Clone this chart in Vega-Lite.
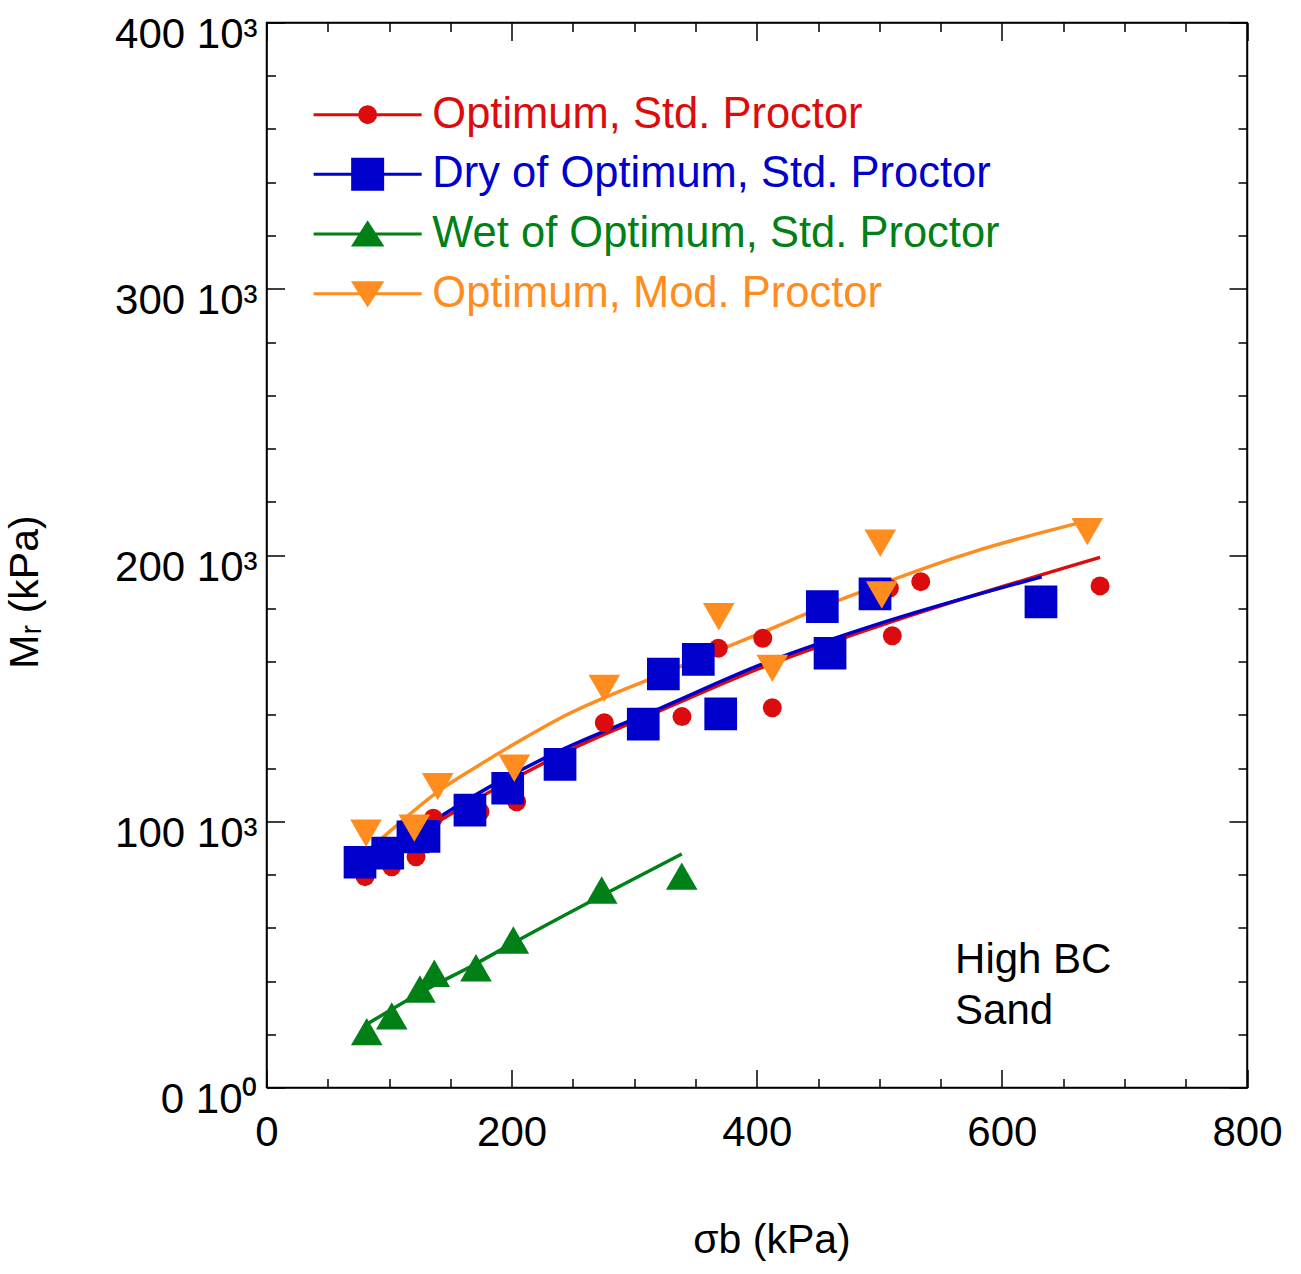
{
  "$schema": "https://vega.github.io/schema/vega-lite/v6.json",
  "width": 980.5,
  "height": 1065,
  "autosize": {"type": "none"},
  "padding": {"left": 266.5, "top": 22.5, "right": 54, "bottom": 186.5},
  "background": "white",
  "config": {
    "font": "Liberation Sans",
    "view": {"stroke": "black", "strokeWidth": 1.5},
    "axis": {
      "grid": false,
      "domainColor": "black",
      "domainWidth": 1.5,
      "tickColor": "black",
      "tickWidth": 1.5,
      "labelFont": "Liberation Sans",
      "labelFontSize": 42,
      "labelColor": "black",
      "titleFont": "Liberation Sans",
      "titleFontSize": 41,
      "titleFontWeight": "normal",
      "titleColor": "black"
    }
  },
  "datasets": {
    "obs": [
      {"series": "Optimum, Std. Proctor", "x": 80.4, "y": 79.2},
      {"series": "Optimum, Std. Proctor", "x": 102.2, "y": 82.9},
      {"series": "Optimum, Std. Proctor", "x": 122.0, "y": 86.7},
      {"series": "Optimum, Std. Proctor", "x": 136.1, "y": 101.1},
      {"series": "Optimum, Std. Proctor", "x": 174.2, "y": 103.6},
      {"series": "Optimum, Std. Proctor", "x": 204.1, "y": 107.3},
      {"series": "Optimum, Std. Proctor", "x": 275.6, "y": 137.0},
      {"series": "Optimum, Std. Proctor", "x": 339.0, "y": 139.3},
      {"series": "Optimum, Std. Proctor", "x": 368.6, "y": 165.0},
      {"series": "Optimum, Std. Proctor", "x": 404.9, "y": 168.7},
      {"series": "Optimum, Std. Proctor", "x": 412.7, "y": 142.6},
      {"series": "Optimum, Std. Proctor", "x": 508.2, "y": 187.5},
      {"series": "Optimum, Std. Proctor", "x": 510.6, "y": 169.7},
      {"series": "Optimum, Std. Proctor", "x": 533.8, "y": 190.0},
      {"series": "Optimum, Std. Proctor", "x": 680.1, "y": 188.4},
      {"series": "Dry of Optimum, Std. Proctor", "x": 76.3, "y": 84.6},
      {"series": "Dry of Optimum, Std. Proctor", "x": 98.9, "y": 88.0},
      {"series": "Dry of Optimum, Std. Proctor", "x": 119.5, "y": 94.1},
      {"series": "Dry of Optimum, Std. Proctor", "x": 128.5, "y": 94.3},
      {"series": "Dry of Optimum, Std. Proctor", "x": 166.0, "y": 104.2},
      {"series": "Dry of Optimum, Std. Proctor", "x": 196.8, "y": 112.4},
      {"series": "Dry of Optimum, Std. Proctor", "x": 239.5, "y": 121.4},
      {"series": "Dry of Optimum, Std. Proctor", "x": 307.4, "y": 136.5},
      {"series": "Dry of Optimum, Std. Proctor", "x": 323.8, "y": 155.3},
      {"series": "Dry of Optimum, Std. Proctor", "x": 352.3, "y": 160.8},
      {"series": "Dry of Optimum, Std. Proctor", "x": 370.6, "y": 140.3},
      {"series": "Dry of Optimum, Std. Proctor", "x": 453.5, "y": 180.6},
      {"series": "Dry of Optimum, Std. Proctor", "x": 459.8, "y": 163.1},
      {"series": "Dry of Optimum, Std. Proctor", "x": 496.5, "y": 185.4},
      {"series": "Dry of Optimum, Std. Proctor", "x": 631.9, "y": 182.4},
      {"series": "Wet of Optimum, Std. Proctor", "x": 81.8, "y": 21.0},
      {"series": "Wet of Optimum, Std. Proctor", "x": 102.2, "y": 26.9},
      {"series": "Wet of Optimum, Std. Proctor", "x": 125.2, "y": 37.0},
      {"series": "Wet of Optimum, Std. Proctor", "x": 136.9, "y": 42.9},
      {"series": "Wet of Optimum, Std. Proctor", "x": 170.9, "y": 45.0},
      {"series": "Wet of Optimum, Std. Proctor", "x": 201.4, "y": 55.4},
      {"series": "Wet of Optimum, Std. Proctor", "x": 273.5, "y": 74.2},
      {"series": "Wet of Optimum, Std. Proctor", "x": 338.8, "y": 79.4},
      {"series": "Optimum, Mod. Proctor", "x": 81.2, "y": 95.5},
      {"series": "Optimum, Mod. Proctor", "x": 120.6, "y": 97.4},
      {"series": "Optimum, Mod. Proctor", "x": 139.7, "y": 113.0},
      {"series": "Optimum, Mod. Proctor", "x": 202.2, "y": 119.9},
      {"series": "Optimum, Mod. Proctor", "x": 275.6, "y": 149.9},
      {"series": "Optimum, Mod. Proctor", "x": 369.0, "y": 176.8},
      {"series": "Optimum, Mod. Proctor", "x": 412.7, "y": 157.4},
      {"series": "Optimum, Mod. Proctor", "x": 500.8, "y": 204.4},
      {"series": "Optimum, Mod. Proctor", "x": 502.0, "y": 185.0},
      {"series": "Optimum, Mod. Proctor", "x": 669.7, "y": 208.8}
    ],
    "fits": [
      {"series": "Optimum, Std. Proctor", "x": 79.6, "y": 81.5},
      {"series": "Optimum, Std. Proctor", "x": 138.9, "y": 99.5},
      {"series": "Optimum, Std. Proctor", "x": 212.3, "y": 118.5},
      {"series": "Optimum, Std. Proctor", "x": 253.1, "y": 128.0},
      {"series": "Optimum, Std. Proctor", "x": 321.1, "y": 141.5},
      {"series": "Optimum, Std. Proctor", "x": 402.7, "y": 157.5},
      {"series": "Optimum, Std. Proctor", "x": 500.6, "y": 173.5},
      {"series": "Optimum, Std. Proctor", "x": 680.1, "y": 199.1},
      {"series": "Dry of Optimum, Std. Proctor", "x": 76.3, "y": 81.5},
      {"series": "Dry of Optimum, Std. Proctor", "x": 141.6, "y": 101.7},
      {"series": "Dry of Optimum, Std. Proctor", "x": 182.4, "y": 113.0},
      {"series": "Dry of Optimum, Std. Proctor", "x": 239.5, "y": 126.5},
      {"series": "Dry of Optimum, Std. Proctor", "x": 321.1, "y": 142.4},
      {"series": "Dry of Optimum, Std. Proctor", "x": 402.7, "y": 158.7},
      {"series": "Dry of Optimum, Std. Proctor", "x": 500.6, "y": 174.3},
      {"series": "Dry of Optimum, Std. Proctor", "x": 632.5, "y": 191.8},
      {"series": "Wet of Optimum, Std. Proctor", "x": 83.1, "y": 24.1},
      {"series": "Wet of Optimum, Std. Proctor", "x": 125.2, "y": 35.5},
      {"series": "Wet of Optimum, Std. Proctor", "x": 170.9, "y": 46.5},
      {"series": "Wet of Optimum, Std. Proctor", "x": 204.1, "y": 55.0},
      {"series": "Wet of Optimum, Std. Proctor", "x": 269.4, "y": 71.1},
      {"series": "Wet of Optimum, Std. Proctor", "x": 338.8, "y": 87.7},
      {"series": "Optimum, Mod. Proctor", "x": 81.2, "y": 88.5},
      {"series": "Optimum, Mod. Proctor", "x": 92.6, "y": 93.0},
      {"series": "Optimum, Mod. Proctor", "x": 141.6, "y": 111.7},
      {"series": "Optimum, Mod. Proctor", "x": 171.5, "y": 120.5},
      {"series": "Optimum, Mod. Proctor", "x": 209.5, "y": 131.0},
      {"series": "Optimum, Mod. Proctor", "x": 239.5, "y": 138.7},
      {"series": "Optimum, Mod. Proctor", "x": 321.1, "y": 155.0},
      {"series": "Optimum, Mod. Proctor", "x": 402.7, "y": 170.6},
      {"series": "Optimum, Mod. Proctor", "x": 467.9, "y": 183.1},
      {"series": "Optimum, Mod. Proctor", "x": 576.7, "y": 201.2},
      {"series": "Optimum, Mod. Proctor", "x": 670.5, "y": 212.9}
    ],
    "note": [
      {"text": "High BC\nSand"}
    ]
  },
  "resolve": {"axis": {"x": "independent", "y": "independent"}},
  "layer": [
    {
      "data": {"name": "fits"},
      "transform": [{"filter": "datum.series === 'Optimum, Std. Proctor'"}],
      "mark": {"type": "line", "strokeWidth": 3.5, "interpolate": "monotone", "color": "#dd0c0c"},
      "encoding": {
        "x": {
          "field": "x", "type": "quantitative",
          "scale": {"domain": [0, 800], "nice": false, "zero": false},
          "axis": {
            "orient": "bottom",
            "values": [0, 50, 100, 150, 200, 250, 300, 350, 400, 450, 500, 550, 600, 650, 700, 750, 800],
            "labelExpr": "datum.value % 200 === 0 ? datum.label : ''",
            "tickSize": {"condition": {"test": "datum.value % 200 === 0", "value": -18}, "value": -9},
            "labelPadding": 42.5,
            "labelFlush": false,
            "labelOverlap": false,
            "title": "σb (kPa)",
            "titleX": 505,
            "titleY": 164.5,
            "titleBaseline": "alphabetic",
            "titleAlign": "center"
          }
        },
        "y": {
          "field": "y", "type": "quantitative",
          "scale": {"domain": [0, 400], "nice": false, "zero": false},
          "axis": {
            "orient": "left",
            "values": [0, 20, 40, 60, 80, 100, 120, 140, 160, 180, 200, 220, 240, 260, 280, 300, 320, 340, 360, 380, 400],
            "labelExpr": "datum.value === 0 ? '0 10⁰' : (datum.value % 100 === 0 ? datum.label + ' 10³' : '')",
            "tickSize": {"condition": {"test": "datum.value % 100 === 0", "value": -18}, "value": -9},
            "labelPadding": 27.5,
            "labelOffset": 12,
            "labelBaseline": "middle",
            "labelFlush": false,
            "labelOverlap": false,
            "title": "Mᵣ (kPa)",
            "titleX": -229.5,
            "titleY": 569,
            "titleAngle": 270,
            "titleBaseline": "alphabetic",
            "titleAlign": "center"
          }
        }
      }
    },
    {
      "data": {"name": "fits"},
      "transform": [{"filter": "datum.series === 'Dry of Optimum, Std. Proctor'"}],
      "mark": {"type": "line", "strokeWidth": 3.5, "interpolate": "monotone", "color": "#0000cc"},
      "encoding": {
        "x": {"field": "x", "type": "quantitative", "scale": {"domain": [0, 800], "nice": false, "zero": false}, "axis": null},
        "y": {"field": "y", "type": "quantitative", "scale": {"domain": [0, 400], "nice": false, "zero": false}, "axis": null}
      }
    },
    {
      "data": {"name": "fits"},
      "transform": [{"filter": "datum.series === 'Wet of Optimum, Std. Proctor'"}],
      "mark": {"type": "line", "strokeWidth": 3.5, "interpolate": "monotone", "color": "#008016"},
      "encoding": {
        "x": {"field": "x", "type": "quantitative", "scale": {"domain": [0, 800], "nice": false, "zero": false}, "axis": null},
        "y": {"field": "y", "type": "quantitative", "scale": {"domain": [0, 400], "nice": false, "zero": false}, "axis": null}
      }
    },
    {
      "data": {"name": "fits"},
      "transform": [{"filter": "datum.series === 'Optimum, Mod. Proctor'"}],
      "mark": {"type": "line", "strokeWidth": 3.5, "interpolate": "monotone", "color": "#ff8c1f"},
      "encoding": {
        "x": {"field": "x", "type": "quantitative", "scale": {"domain": [0, 800], "nice": false, "zero": false}, "axis": null},
        "y": {"field": "y", "type": "quantitative", "scale": {"domain": [0, 400], "nice": false, "zero": false}, "axis": null}
      }
    },
    {
      "data": {"name": "obs"},
      "transform": [{"filter": "datum.series === 'Optimum, Std. Proctor'"}],
      "mark": {"type": "point", "shape": "circle", "filled": true, "opacity": 1, "size": 361, "color": "#dd0c0c"},
      "encoding": {
        "x": {
          "field": "x", "type": "quantitative",
          "scale": {"domain": [0, 800], "nice": false, "zero": false},
          "axis": {
            "orient": "top",
            "values": [0, 50, 100, 150, 200, 250, 300, 350, 400, 450, 500, 550, 600, 650, 700, 750, 800],
            "labels": false,
            "tickSize": {"condition": {"test": "datum.value % 200 === 0", "value": -18}, "value": -9},
            "title": null
          }
        },
        "y": {
          "field": "y", "type": "quantitative",
          "scale": {"domain": [0, 400], "nice": false, "zero": false},
          "axis": {
            "orient": "right",
            "values": [0, 20, 40, 60, 80, 100, 120, 140, 160, 180, 200, 220, 240, 260, 280, 300, 320, 340, 360, 380, 400],
            "labels": false,
            "tickSize": {"condition": {"test": "datum.value % 100 === 0", "value": -18}, "value": -9},
            "title": null
          }
        }
      }
    },
    {
      "data": {"name": "obs"},
      "transform": [{"filter": "datum.series === 'Dry of Optimum, Std. Proctor'"}],
      "mark": {"type": "point", "shape": "square", "filled": true, "opacity": 1, "size": 1070, "color": "#0000cc"},
      "encoding": {
        "x": {"field": "x", "type": "quantitative", "scale": {"domain": [0, 800], "nice": false, "zero": false}, "axis": null},
        "y": {"field": "y", "type": "quantitative", "scale": {"domain": [0, 400], "nice": false, "zero": false}, "axis": null}
      }
    },
    {
      "data": {"name": "obs"},
      "transform": [{"filter": "datum.series === 'Wet of Optimum, Std. Proctor'"}],
      "mark": {"type": "point", "shape": "triangle-up", "filled": true, "opacity": 1, "size": 1000, "color": "#008016"},
      "encoding": {
        "x": {"field": "x", "type": "quantitative", "scale": {"domain": [0, 800], "nice": false, "zero": false}, "axis": null},
        "y": {"field": "y", "type": "quantitative", "scale": {"domain": [0, 400], "nice": false, "zero": false}, "axis": null}
      }
    },
    {
      "data": {"name": "obs"},
      "transform": [{"filter": "datum.series === 'Optimum, Mod. Proctor'"}],
      "mark": {"type": "point", "shape": "triangle-down", "filled": true, "opacity": 1, "size": 1000, "color": "#ff8c1f"},
      "encoding": {
        "x": {"field": "x", "type": "quantitative", "scale": {"domain": [0, 800], "nice": false, "zero": false}, "axis": null},
        "y": {"field": "y", "type": "quantitative", "scale": {"domain": [0, 400], "nice": false, "zero": false}, "axis": null}
      }
    },
    {
      "data": {"name": "note"},
      "mark": {"type": "text", "lineBreak": "\n", "lineHeight": 51, "align": "left", "baseline": "alphabetic", "font": "Liberation Sans", "fontSize": 42, "color": "black"},
      "encoding": {
        "text": {"field": "text", "type": "nominal"},
        "x": {"datum": 561.8, "type": "quantitative", "scale": {"domain": [0, 800], "nice": false, "zero": false}, "axis": null},
        "y": {"datum": 42.9, "type": "quantitative", "scale": {"domain": [0, 400], "nice": false, "zero": false}, "axis": null}
      }
    },
    {
      "data": {"name": "obs"},
      "mark": {"type": "point", "filled": true, "opacity": 0, "size": 3446, "strokeWidth": 3},
      "encoding": {
        "color": {
          "field": "series", "type": "nominal",
          "scale": {
            "domain": ["Optimum, Std. Proctor", "Dry of Optimum, Std. Proctor", "Wet of Optimum, Std. Proctor", "Optimum, Mod. Proctor"],
            "range": ["#dd0c0c", "#0000cc", "#008016", "#ff8c1f"]
          },
          "legend": {
            "title": null, "orient": "none", "legendX": 70.15, "legendY": 61.15, "padding": 0, "offset": 0,
            "direction": "vertical", "symbolSize": 3446, "symbolStrokeWidth": 3, "symbolOpacity": 1,
            "rowPadding": 6.7, "labelFontSize": 43.5, "labelFont": "Liberation Sans", "labelLimit": 900,
            "labelOffset": 33.65, "labelBaseline": "middle", "symbolOffset": 0,
            "labelColor": {"expr": "datum.value === 'Optimum, Std. Proctor' ? '#dd0c0c' : datum.value === 'Dry of Optimum, Std. Proctor' ? '#0000cc' : datum.value === 'Wet of Optimum, Std. Proctor' ? '#008016' : '#ff8c1f'"}
          }
        },
        "stroke": {
          "field": "series", "type": "nominal",
          "scale": {
            "domain": ["Optimum, Std. Proctor", "Dry of Optimum, Std. Proctor", "Wet of Optimum, Std. Proctor", "Optimum, Mod. Proctor"],
            "range": ["#dd0c0c", "#0000cc", "#008016", "#ff8c1f"]
          },
          "legend": {
            "title": null, "orient": "none", "legendX": 70.15, "legendY": 61.15, "padding": 0, "offset": 0,
            "direction": "vertical", "symbolSize": 3446, "symbolStrokeWidth": 3, "symbolOpacity": 1,
            "rowPadding": 6.7, "labelFontSize": 43.5, "labelFont": "Liberation Sans", "labelLimit": 900,
            "labelOffset": 33.65, "labelBaseline": "middle", "symbolOffset": 0,
            "labelColor": {"expr": "datum.value === 'Optimum, Std. Proctor' ? '#dd0c0c' : datum.value === 'Dry of Optimum, Std. Proctor' ? '#0000cc' : datum.value === 'Wet of Optimum, Std. Proctor' ? '#008016' : '#ff8c1f'"}
          }
        },
        "shape": {
          "field": "series", "type": "nominal",
          "scale": {
            "domain": ["Optimum, Std. Proctor", "Dry of Optimum, Std. Proctor", "Wet of Optimum, Std. Proctor", "Optimum, Mod. Proctor"],
            "range": [
              "M-1.84,0L1.84,0M-0.2726,0A0.2726,0.2726,0,1,0,0.2726,0A0.2726,0.2726,0,1,0,-0.2726,0Z",
              "M-1.84,0L1.84,0M-0.511,-0.511L0.511,-0.511L0.511,0.511L-0.511,0.511Z",
              "M-1.84,0L1.84,0M0,-0.375L0.477,0.375L-0.477,0.375Z",
              "M-1.84,0L1.84,0M0,0.375L0.477,-0.375L-0.477,-0.375Z"
            ]
          },
          "legend": {
            "title": null, "orient": "none", "legendX": 70.15, "legendY": 61.15, "padding": 0, "offset": 0,
            "direction": "vertical", "symbolSize": 3446, "symbolStrokeWidth": 3, "symbolOpacity": 1,
            "rowPadding": 6.7, "labelFontSize": 43.5, "labelFont": "Liberation Sans", "labelLimit": 900,
            "labelOffset": 33.65, "labelBaseline": "middle", "symbolOffset": 0,
            "labelColor": {"expr": "datum.value === 'Optimum, Std. Proctor' ? '#dd0c0c' : datum.value === 'Dry of Optimum, Std. Proctor' ? '#0000cc' : datum.value === 'Wet of Optimum, Std. Proctor' ? '#008016' : '#ff8c1f'"}
          }
        }
      }
    }
  ]
}
